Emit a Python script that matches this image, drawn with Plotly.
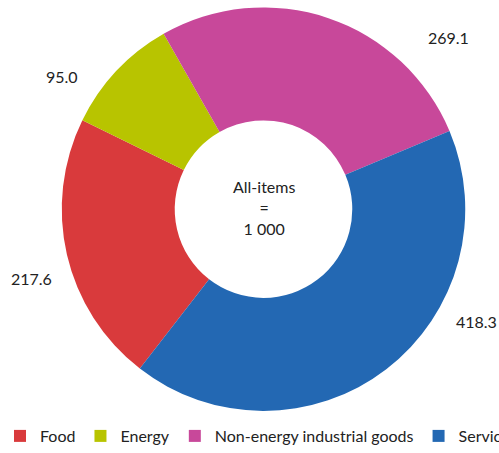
import plotly.graph_objects as go

categories = ["Food", "Energy", "Non-energy industrial goods", "Services"]
weights = [217.6, 95.0, 269.1, 418.3]
colors = ["#D93A3C", "#B8C400", "#C8489A", "#2368B3"]
total_label = "1 000"

W, H = 620, 453
cx, cy, R = 263.5, 211.5, 204

fig = go.Figure(go.Pie(
    labels=categories,
    values=weights,
    marker=dict(colors=colors, line=dict(width=0)),
    hole=0.44,
    sort=False,
    direction="clockwise",
    rotation=217.8,
    textinfo="none",
    hoverinfo="label+value",
    domain=dict(x=[(cx - R) / W, (cx + R) / W], y=[1 - (cy + R) / H, 1 - (cy - R) / H]),
))

label_px = [(31, 282), (62, 77), (448, 38), (476, 325)]
annotations = []
for v, (px, py) in zip(weights, label_px):
    annotations.append(dict(x=px / W, y=1 - py / H, xref="paper", yref="paper",
                            xanchor="center", yanchor="middle",
                            text=f"{v:.1f}", showarrow=False,
                            font=dict(size=16, color="#222222", family="Lato")))
annotations.append(dict(x=cx / W, y=1 - (cy - 2) / H, xref="paper", yref="paper",
                        xanchor="center", yanchor="middle",
                        text=f"All-items<br>=<br>{total_label}", showarrow=False,
                        font=dict(size=16, color="#222222", family="Lato")))

fig.update_layout(
    width=W, height=H,
    margin=dict(l=0, r=0, t=0, b=0),
    paper_bgcolor="white",
    plot_bgcolor="white",
    font=dict(family="Lato", size=16, color="#222222"),
    showlegend=True,
    legend=dict(orientation="h", x=0, xanchor="left", y=1 - 441 / H, yanchor="middle",
                font=dict(size=16, color="#222222", family="Lato"),
                traceorder="normal"),
    annotations=annotations,
)

fig.write_html("out.html", post_script="document.body.style.overflow='hidden';document.body.style.margin='0';")
